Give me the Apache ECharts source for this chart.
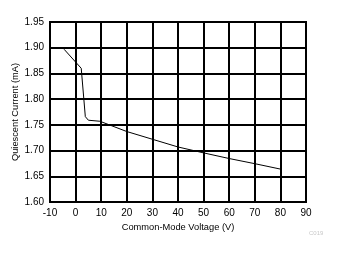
<!DOCTYPE html>
<html><head><meta charset="utf-8">
<script src="https://cdn.jsdelivr.net/npm/echarts@6/dist/echarts.min.js"></script>
<style>html,body{margin:0;padding:0;background:#fff}#c{width:338px;height:254px}</style>
</head><body><div id="c"></div>
<script>
const voltage = [-4.5, 2.2, 3.8, 5.0, 9.5, 10, 20, 30, 40, 50, 60, 70, 80];
const current = [1.897, 1.860, 1.766, 1.759, 1.757, 1.755, 1.737, 1.722, 1.707, 1.6955, 1.6845, 1.6745, 1.664];
const xTicks = { min: -10, max: 90, step: 10 };
const yTicks = { min: 1.60, max: 1.95, step: 0.05 };
const xTitle = 'Common-Mode Voltage (V)';
const yTitle = 'Quiescent Current (mA)';
const note = 'C019';

const tickFont = '"Liberation Sans Narrow", "Liberation Sans", Arial, sans-serif';
const titleFont = '"Liberation Sans", Arial, sans-serif';
const chart = echarts.init(document.getElementById('c'), null, {renderer: 'canvas'});
chart.setOption({
  animation: false,
  backgroundColor: '#fff',
  grid: { left: 50, right: 32, top: 22, bottom: 52, show: true, borderColor: '#000', borderWidth: 2 },
  xAxis: {
    type: 'value', min: xTicks.min, max: xTicks.max, interval: xTicks.step,
    name: xTitle, nameLocation: 'middle', nameGap: 20,
    nameTextStyle: { color: '#000', fontSize: 9.3, fontFamily: titleFont },
    axisLine: { show: true, lineStyle: { color: '#000', width: 2 } },
    axisTick: { show: false },
    axisLabel: { color: '#000', fontSize: 10, fontFamily: tickFont, margin: 6 },
    splitLine: { show: true, lineStyle: { color: '#000', width: 2 } }
  },
  yAxis: {
    type: 'value', min: yTicks.min, max: yTicks.max, interval: yTicks.step,
    name: yTitle, nameLocation: 'middle', nameGap: 30, nameMoveOverlap: false,
    nameTextStyle: { color: '#000', fontSize: 9.3, fontFamily: titleFont },
    axisLine: { show: true, lineStyle: { color: '#000', width: 2 } },
    axisTick: { show: false },
    axisLabel: { color: '#000', fontSize: 10, fontFamily: tickFont, margin: 6,
      formatter: v => v.toFixed(2) },
    splitLine: { show: true, lineStyle: { color: '#000', width: 2 } }
  },
  graphic: [{ type: 'text', left: 309, top: 230,
    style: { text: note, fill: '#c8c8c8', font: '6px ' + titleFont } }],
  series: [{
    type: 'line', data: voltage.map((v, i) => [v, current[i]]),
    showSymbol: false, smooth: false,
    lineStyle: { color: '#000', width: 1 }
  }]
});
</script></body></html>
